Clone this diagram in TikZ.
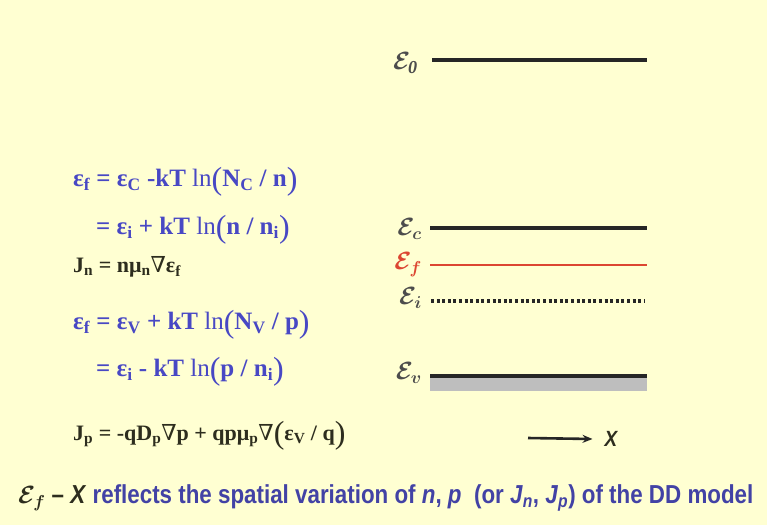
\documentclass[tikz,border=0pt]{standalone}
\usepackage{fontspec}
\setmainfont{Liberation Serif}
\newfontfamily\capfont[FakeStretch=0.86]{Liberation Sans}
\newfontfamily\symfont{DejaVu Serif}
\usepackage{tikz}
\usetikzlibrary{arrows.meta, positioning}
\definecolor{slidebg}{RGB}{255, 255, 210}
\definecolor{eqblue}{RGB}{72, 72, 196}
\definecolor{eqdark}{RGB}{45, 45, 30}
\definecolor{fermired}{RGB}{220, 70, 50}
\definecolor{capblue}{RGB}{66, 66, 165}
\definecolor{bandgray}{RGB}{190, 190, 190}
\newcommand{\sbs}[1]{\textsubscript{#1}}
\newcommand{\nab}{{\symfont\mdseries\char"2207}}
\newcommand{\lnf}{{\mdseries ln}}
\newcommand{\lp}{\raisebox{-3pt}{\mdseries\fontsize{32}{32}\selectfont(}}
\newcommand{\rp}{\raisebox{-3pt}{\mdseries\fontsize{32}{32}\selectfont)}}

\begin{document}
\begin{tikzpicture}[x=1pt, y=-1pt,
    level/.style={line width=3.2pt, black!85},
    lvlname/.style={anchor=east, inner sep=0pt,
      font=\fontsize{26}{28}\selectfont\boldmath},
    eqn/.style={anchor=west, inner sep=0pt, text=eqblue,
      font=\fontsize{25}{27}\selectfont\bfseries},
    flux/.style={anchor=west, inner sep=0pt, text=eqdark,
      font=\fontsize{22}{24}\selectfont\bfseries}]
  % Slide background
  \fill[slidebg] (0, 0) rectangle (767, 525);
  \useasboundingbox (0, 0) rectangle (767, 525);

  % Vacuum level
  \coordinate (E0l) at (432, 60);
  \coordinate (E0r) at (647, 60);
  \draw[level] (E0l) -- (E0r);
  \node[lvlname, text=black!70] (E0) at (418, 63) {$\mathcal{E}_{\mathit{0}}$};

  % Conduction band edge
  \coordinate (Ecl) at (430, 228);
  \coordinate (Ecr) at (647, 228);
  \draw[level] (Ecl) -- (Ecr);
  \node[lvlname, text=black!70] (Ec) at (422, 229) {$\mathcal{E}_c$};

  % Fermi level
  \coordinate (Efl) at (430, 265);
  \coordinate (Efr) at (647, 265);
  \draw[fermired, line width=2pt] (Efl) -- (Efr);
  \node[lvlname, text=fermired] (Ef) at (422, 265) {$\mathcal{E}_f$};

  % Intrinsic level
  \coordinate (Eil) at (431, 301);
  \coordinate (Eir) at (645, 301);
  \draw[black!85, line width=3.2pt, dash pattern=on 3pt off 2.6pt] (Eil) -- (Eir);
  \node[lvlname, text=black!70] (Ei) at (422, 298) {$\mathcal{E}_i$};

  % Valence band edge, filled states below
  \coordinate (Evl) at (430, 376);
  \coordinate (Evr) at (647, 376);
  \fill[bandgray] (Evl) rectangle ([yshift=-15pt]Evr);
  \draw[level] (Evl) -- (Evr);
  \node[lvlname, text=black!70] (Ev) at (422, 373) {$\mathcal{E}_v$};

  % Electron side
  \node[eqn] (fn1) at (73, 182)
    {ε\sbs{f} = ε\sbs{C} -kT \lnf\lp N\sbs{C} / n\rp};
  \node[eqn] (fn2) at (96, 230)
    {= ε\sbs{i} + kT \lnf\lp n / n\sbs{i}\rp};
  \node[flux] (Jn) at (73, 267)
    {J\sbs{n} = nμ\sbs{n}\nab ε\sbs{f}};

  % Hole side
  \node[eqn] (fp1) at (73, 325)
    {ε\sbs{f} = ε\sbs{V} + kT \lnf\lp N\sbs{V} / p\rp};
  \node[eqn] (fp2) at (96, 372)
    {= ε\sbs{i} - kT \lnf\lp p / n\sbs{i}\rp};
  \node[flux] (Jp) at (73, 436)
    {J\sbs{p} = -qD\sbs{p}\nab p + qpμ\sbs{p}\nab\lp ε\sbs{V} / q\rp};

  % Position axis
  \coordinate (xstart) at (528, 438);
  \node[inner sep=0pt, text=eqdark, font=\capfont\fontsize{22}{24}\selectfont\bfseries\itshape]
    (xaxis) at (611, 439) {X};
  \draw[-{Stealth[length=10pt, width=8pt]}, line width=2.6pt, black!85]
    (xstart) -- ([xshift=-12pt]xaxis.west);

  % Caption
  \node[anchor=west, inner sep=0pt, text=capblue,
        font=\capfont\fontsize{26}{28}\selectfont\bfseries] (caption) at (18, 498)
    {{\color{eqdark}\boldmath$\mathcal{E}_f$ – \textit{X}} reflects the spatial variation
     of \textit{n}, \textit{p}\ \ (or \textit{J}\sbs{\textit{n}}, \textit{J}\sbs{\textit{p}})
     of the DD model};
\end{tikzpicture}
\end{document}
